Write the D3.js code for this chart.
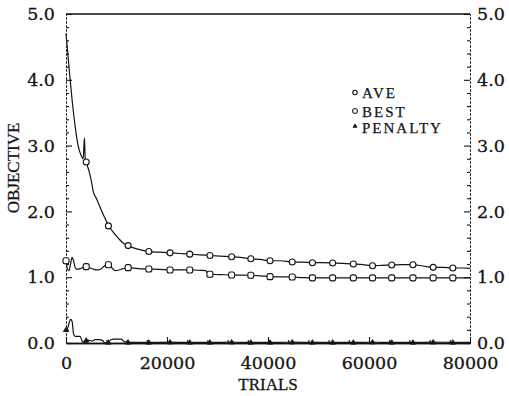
<!DOCTYPE html>
<html><head><meta charset="utf-8">
<script src="https://cdn.jsdelivr.net/npm/d3@7/dist/d3.min.js"></script>
<style>
html,body{margin:0;padding:0;background:#fff;}
svg{display:block;}
</style>
</head><body>
<svg id="chart" width="509" height="396"></svg>
<script>
// ---- data ----
const aveTrials = [0,300,700,1200,1800,2400,3000,3400,3650,3800,4000,4600,5100,5400,6000,6700,7400,8000,8400,9000,10400,11300,12300,14000,16400,18500,20600,22500,24500,26500,28500,30500,32800,34500,36600,38500,40400,42500,44800,46800,48800,50800,52800,54800,56900,58800,60700,62500,64500,66500,68700,70700,72700,74700,76600,78500,80000];
const aveValues = [4.70,4.45,4.10,3.70,3.30,3.00,2.85,2.80,3.12,2.80,2.75,2.60,2.43,2.30,2.20,2.07,1.95,1.85,1.78,1.72,1.59,1.52,1.48,1.43,1.39,1.38,1.37,1.36,1.35,1.34,1.33,1.32,1.31,1.30,1.28,1.27,1.25,1.25,1.23,1.23,1.22,1.22,1.215,1.21,1.20,1.19,1.175,1.18,1.185,1.19,1.19,1.17,1.15,1.15,1.14,1.14,1.135];

const bestTrials = [0,300,600,900,1200,1500,1800,2200,2800,3400,4000,4800,5500,6300,7000,7600,8400,9000,9700,10500,11300,12300,14300,16400,18500,20600,22500,24500,26500,27700,28100,28500,30500,32800,34700,36600,38500,40400,42600,44800,46800,48800,52800,56900,60700,64500,68700,72700,76600,80000];
const bestValues = [1.25,1.12,1.10,1.20,1.30,1.25,1.15,1.12,1.13,1.15,1.16,1.14,1.12,1.11,1.13,1.17,1.19,1.15,1.10,1.11,1.13,1.145,1.13,1.125,1.12,1.11,1.11,1.11,1.105,1.10,1.05,1.044,1.04,1.033,1.033,1.03,1.02,1.008,1.005,1.003,0.995,0.99,0.99,0.99,0.99,0.99,0.99,0.99,0.99,0.99];

const penTrials = [0,300,600,900,1200,1500,1800,2400,2800,3200,3600,4000,4600,5200,5800,6600,7200,7700,8400,8900,9500,10500,11000,11500,12300,16400,20600,24500,28500,32800,36600,40400,44800,48800,52800,56900,60700,64500,68700,72700,76600,80000];
const penValues = [0.20,0.22,0.30,0.36,0.33,0.14,0.10,0.10,0.10,0.03,0.01,0.04,0.04,0.03,0.05,0.05,0.04,0.00,0.01,0.05,0.06,0.06,0.06,0.02,0.01,0.01,0.012,0.01,0.01,0.012,0.01,0.01,0.012,0.01,0.01,0.01,0.012,0.01,0.01,0.012,0.01,0.01];

const markTrials = [4000,8400,12300,16400,20600,24500,28500,32800,36600,40400,44800,48800,52800,56900,60700,64500,68700,72700,76600];
const startMarked = [false,true,true]; // AVE, BEST, PENALTY marker at trial 0

const xMajorTicks = [0,20000,40000,60000,80000];
const xTickLabels = ["0","20000","40000","60000","80000"];
const yMajorTicks = [0,1,2,3,4,5];
const yTickLabels = ["0.0","1.0","2.0","3.0","4.0","5.0"];
const legendLabels = ["AVE","BEST","PENALTY"];
const xTitle = "TRIALS";
const yTitle = "OBJECTIVE";

// ---- layout ----
const svg = d3.select("#chart");
const L = 66, R = 470, T = 14, B = 343;
const x = d3.scaleLinear().domain([0,80000]).range([L,R]);
const y = d3.scaleLinear().domain([0,5]).range([B,T]);
const ink = "#141414";
const numFont = "'DejaVu Serif', serif";
const txtFont = "'Liberation Serif', 'Times New Roman', serif";

// top frame line
svg.append("line").attr("x1",L).attr("x2",R).attr("y1",T).attr("y2",T)
  .attr("stroke",ink).attr("stroke-width",1.3);

function styleAxis(g, dashed){
  g.select(".domain").attr("stroke",ink).attr("stroke-width",dashed?1:1.4)
    .attr("stroke-dasharray",dashed?"2,2":null);
  g.selectAll(".tick line").attr("stroke",ink).attr("stroke-width",1.1);
  g.selectAll("text").attr("fill",ink).attr("font-family",numFont).attr("font-size",17.5)
    .attr("stroke",ink).attr("stroke-width",0.3);
}

// bottom axis
const xMinor = d3.range(0,80001,4000).filter(v=>v%20000!==0);
svg.append("g").attr("transform",`translate(0,${B})`)
  .call(d3.axisBottom(x).tickValues(xMinor).tickSizeInner(-3).tickSizeOuter(0).tickFormat(""))
  .call(g=>styleAxis(g,false));
svg.append("g").attr("transform",`translate(0,${B})`)
  .call(d3.axisBottom(x).tickValues(xMajorTicks).tickSizeInner(-6).tickSizeOuter(0).tickPadding(14)
    .tickFormat((d,i)=>xTickLabels[i]))
  .call(g=>styleAxis(g,false));

// left / right axes
const yMinor = d3.range(0,26).map(i=>i*0.2).filter(v=>Math.abs(v-Math.round(v))>1e-6);
svg.append("g").attr("transform",`translate(${L},0)`)
  .call(d3.axisLeft(y).tickValues(yMinor).tickSizeInner(-3).tickSizeOuter(0).tickFormat(""))
  .call(g=>styleAxis(g,true));
svg.append("g").attr("transform",`translate(${L},0)`)
  .call(d3.axisLeft(y).tickValues(yMajorTicks).tickSizeInner(-6).tickSizeOuter(0).tickPadding(11)
    .tickFormat((d,i)=>yTickLabels[i]))
  .call(g=>styleAxis(g,true));
svg.append("g").attr("transform",`translate(${R},0)`)
  .call(d3.axisRight(y).tickValues(yMinor).tickSizeInner(-3).tickSizeOuter(0).tickFormat(""))
  .call(g=>styleAxis(g,true));
svg.append("g").attr("transform",`translate(${R},0)`)
  .call(d3.axisRight(y).tickValues(yMajorTicks).tickSizeInner(-6).tickSizeOuter(0).tickPadding(7)
    .tickFormat((d,i)=>yTickLabels[i]))
  .call(g=>styleAxis(g,true));

// titles
svg.append("text").attr("x",(L+R)/2).attr("y",390).attr("text-anchor","middle")
  .attr("font-family",txtFont).attr("font-size",17).attr("fill",ink)
  .attr("stroke",ink).attr("stroke-width",0.3).text(xTitle);
svg.append("text").attr("transform","translate(18.5,168) rotate(-90)").attr("text-anchor","middle")
  .attr("font-family",txtFont).attr("font-size",17).attr("fill",ink)
  .attr("stroke",ink).attr("stroke-width",0.3).text(yTitle);

// lines
const line = d3.line().x(d=>x(d[0])).y(d=>y(d[1])).curve(d3.curveMonotoneX);
const series = [
  {t:aveTrials, v:aveValues, sym:"circle"},
  {t:bestTrials, v:bestValues, sym:"square"},
  {t:penTrials, v:penValues, sym:"triangle"}
];
function drawSym(g, sym, cx, cy, s){
  if(sym==="circle"){
    g.append("circle").attr("cx",cx).attr("cy",cy).attr("r",3*s)
      .attr("fill","#fff").attr("stroke",ink).attr("stroke-width",1.1);
  } else if(sym==="square"){
    g.append("rect").attr("x",cx-3*s).attr("y",cy-3*s).attr("width",6*s).attr("height",6*s)
      .attr("rx",2*s).attr("fill","#fff").attr("stroke",ink).attr("stroke-width",1.1);
  } else {
    const h=4.5*s;
    g.append("path").attr("d",`M${cx},${cy-h*0.6}L${cx+h*0.6},${cy+h*0.4}L${cx-h*0.6},${cy+h*0.4}Z`)
      .attr("fill",ink).attr("stroke",ink).attr("stroke-width",0.8);
  }
}
series.forEach(s=>{
  const pts = s.t.map((t,i)=>[t,s.v[i]]);
  svg.append("path").datum(pts).attr("d",line).attr("fill","none")
    .attr("stroke",ink).attr("stroke-width",1.2);
});
series.forEach((s,k)=>{
  const g = svg.append("g");
  s.t.forEach((t,i)=>{
    if(markTrials.includes(t) || (t===0 && startMarked[k])) drawSym(g, s.sym, x(t), y(s.v[i]), 1);
  });
});

// legend
const legY = [92.5,111,126];
const legBase = [98,117,133];
legendLabels.forEach((lab,i)=>{
  const g = svg.append("g");
  drawSym(g, series[i].sym, 355, legY[i], 0.75);
  svg.append("text").attr("x",362).attr("y",legBase[i])
    .attr("font-family",txtFont).attr("font-size",15).attr("letter-spacing",2)
    .attr("fill",ink).attr("stroke",ink).attr("stroke-width",0.25).text(lab);
});
</script>
</body></html>
